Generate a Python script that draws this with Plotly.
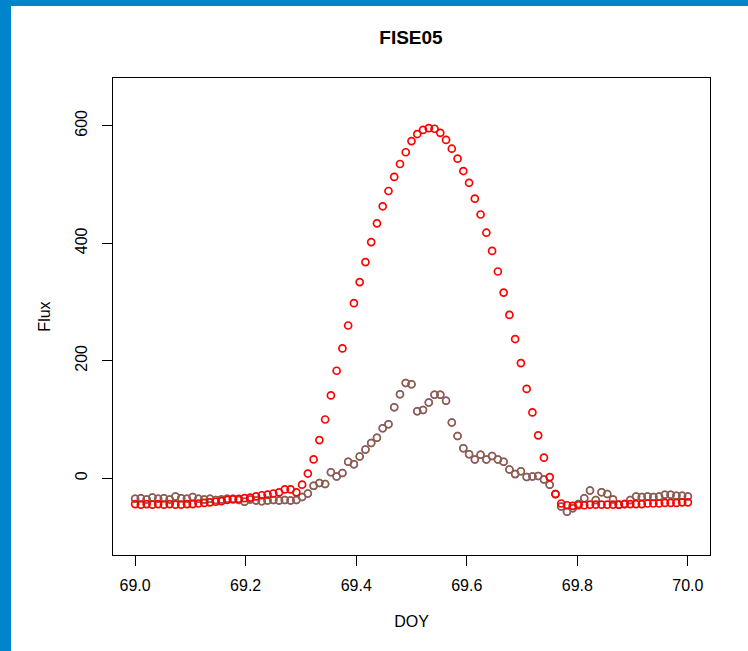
import numpy as np
import plotly.graph_objects as go

# Time axis: day of year, 15-minute steps from 69.0 to 70.0
doy = [69.0 + i / 96 for i in range(97)]

flux_red = [
    -44, -45, -44, -45, -44, -45, -44, -45, -45, -44,
    -44, -43, -42, -41, -40, -39, -37, -36, -35, -34,
    -33, -31, -29, -28, -26, -24, -19, -19, -24, -11,
    8, 32, 65, 100, 141, 183, 221, 260, 298, 334,
    368, 402, 434, 463, 489, 513, 535, 555, 574, 586,
    593, 596, 595, 588, 576, 561, 544, 523, 503, 476,
    449, 418, 387, 352, 316, 278, 237, 196, 152, 112,
    73, 35, 2, -27, -43, -46, -47, -46, -46, -45,
    -45, -45, -45, -45, -45, -44, -44, -44, -44, -43,
    -43, -43, -42, -42, -42, -41, -41,
]

flux_other = [
    -35, -34, -36, -33, -35, -34, -36, -31, -34, -35,
    -32, -35, -36, -35, -37, -36, -35, -35, -37, -40,
    -36, -38, -39, -38, -37, -38, -37, -38, -37, -32,
    -26, -13, -8, -10, 10, 3, 9, 28, 24, 37,
    49, 60, 69, 85, 92, 121, 143, 162, 160, 114,
    116, 129, 142, 142, 132, 95, 72, 51, 41, 32,
    40, 32, 38, 32, 28, 15, 7, 12, 2, 3,
    4, -2, -11, -27, -48, -57, -51, -44, -34, -21,
    -37, -24, -27, -36, -45, -44, -37, -31, -32, -31,
    -32, -31, -28, -28, -30, -30, -31,
]

x_ticks = [69.0, 69.2, 69.4, 69.6, 69.8, 70.0]
x_tick_text = ["69.0", "69.2", "69.4", "69.6", "69.8", "70.0"]
y_ticks = [0, 200, 400, 600]
y_tick_text = ["0", "200", "400", "600"]

font = "Liberation Sans, Arial, Helvetica, sans-serif"

fig = go.Figure()
fig.add_trace(go.Scatter(
    x=doy, y=flux_other, mode="markers",
    marker=dict(symbol="circle-open", size=7, color="#b020e0",
                line=dict(width=1.5, color="#b020e0")),
    showlegend=False,
))
fig.add_trace(go.Scatter(
    x=doy, y=flux_other, mode="markers", opacity=0.85,
    marker=dict(symbol="circle-open", size=7, color="#7d7020",
                line=dict(width=1.5, color="#7d7020")),
    showlegend=False,
))
fig.add_trace(go.Scatter(
    x=doy, y=flux_red, mode="markers",
    marker=dict(symbol="circle-open", size=7, color="#ff0000",
                line=dict(width=1.7, color="#ff0000")),
    showlegend=False,
))

L, R, T, B = 113, 38, 78, 96
W, H = 748, 651
pw, ph = W - L - R, H - T - B

def px_x(p):
    return (p - L) / pw

def px_y(p):
    return (H - B - p) / ph

fig.update_layout(
    width=W, height=H,
    margin=dict(l=L, r=R, t=T, b=B),
    paper_bgcolor="white", plot_bgcolor="white",
    font=dict(family=font, size=16, color="black"),
    title=dict(text="<b>FISE05</b>", x=411 / W, xanchor="center",
               y=1 - 37 / H, yanchor="middle",
               font=dict(family=font, size=19, color="black")),
    xaxis=dict(
        range=[68.96, 70.04], tickvals=x_ticks, ticktext=x_tick_text,
        showgrid=False, zeroline=False, showline=True, mirror=True,
        linecolor="black", linewidth=1.3, ticks="outside", ticklen=10,
        tickwidth=1.3, tickcolor="black", ticklabelstandoff=6,
        title=dict(text="DOY", standoff=22, font=dict(size=16)),
    ),
    yaxis=dict(
        range=[-130.7, 681.4], tickvals=y_ticks, ticktext=y_tick_text,
        showgrid=False, zeroline=False, showline=True, mirror=True,
        linecolor="black", linewidth=1.3, ticks="outside", ticklen=10,
        tickwidth=1.3, tickcolor="black", tickangle=-90, ticklabelstandoff=8,
        title=dict(text="Flux", standoff=18, font=dict(size=16)),
    ),
    shapes=[
        dict(type="rect", xref="paper", yref="paper",
             x0=px_x(0), x1=px_x(11), y0=px_y(H), y1=px_y(0),
             fillcolor="#0085cc", line=dict(width=0), layer="above"),
        dict(type="rect", xref="paper", yref="paper",
             x0=px_x(0), x1=px_x(W), y0=px_y(6), y1=px_y(0),
             fillcolor="#0085cc", line=dict(width=0), layer="above"),
    ],
)

fig.write_html(
    "out.html",
    config={"displayModeBar": False},
    post_script="document.body.style.margin='0px';document.body.style.overflow='hidden';",
)
